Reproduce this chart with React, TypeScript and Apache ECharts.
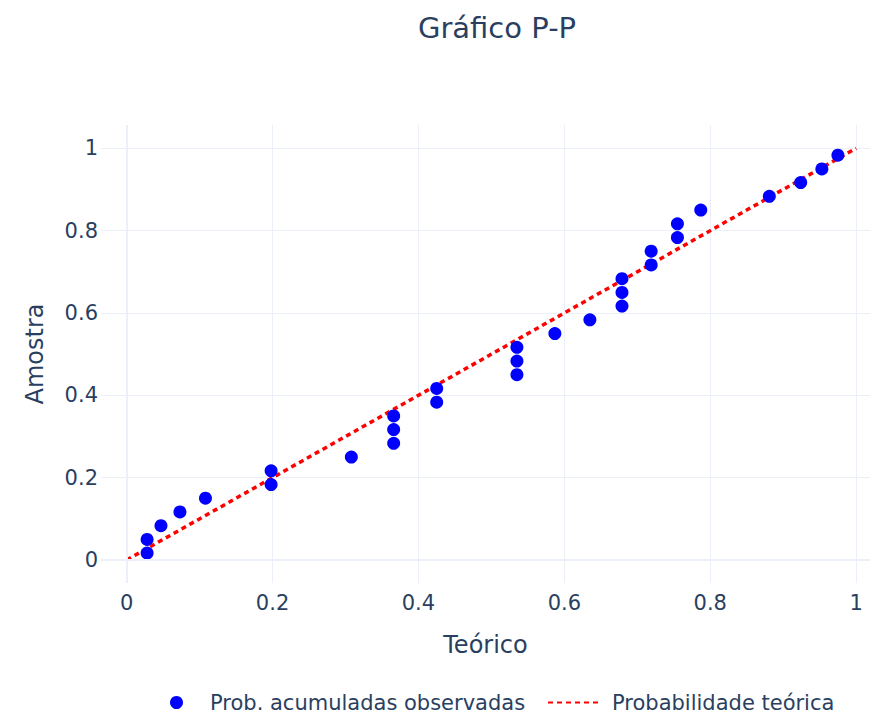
import React, { useEffect, useRef } from "react";
import * as echarts from "echarts";

const titleText = "Gráfico P-P";
const xTitle = "Teórico";
const yTitle = "Amostra";
const scatterName = "Prob. acumuladas observadas";
const lineName = "Probabilidade teórica";

const theoretical = [
  0.028, 0.028, 0.047, 0.073, 0.108, 0.198, 0.198, 0.308, 0.366, 0.366,
  0.366, 0.425, 0.425, 0.535, 0.535, 0.535, 0.587, 0.635, 0.679, 0.679,
  0.679, 0.719, 0.719, 0.755, 0.755, 0.787, 0.881, 0.924, 0.953, 0.975,
];
const sample = [
  0.0167, 0.05, 0.0833, 0.1167, 0.15, 0.1833, 0.2167, 0.25, 0.2833, 0.3167,
  0.35, 0.3833, 0.4167, 0.45, 0.4833, 0.5167, 0.55, 0.5833, 0.6167, 0.65,
  0.6833, 0.7167, 0.75, 0.7833, 0.8167, 0.85, 0.8833, 0.9167, 0.95, 0.9833,
];
const refLineX = [0, 1];
const refLineY = [0, 1];

const FONT = "DejaVu Sans";
const TXT = "#2a3f5f";
const GRID = "#ebf0f8";

export default function App() {
  const ref = useRef<HTMLDivElement>(null);
  useEffect(() => {
    if (!ref.current) return;
    const chart = echarts.init(ref.current, undefined, { renderer: "svg" });
    const scatterData = theoretical.map((x, i) => [x, sample[i]]);
    const lineData = refLineX.map((x, i) => [x, refLineY[i]]);
    chart.setOption({
      animation: false,
      backgroundColor: "#ffffff",
      textStyle: { fontFamily: FONT },
      title: {
        text: titleText,
        left: 492,
        textAlign: "center",
        top: 8,
        textStyle: { fontFamily: FONT, fontSize: 29, fontWeight: "normal", color: TXT },
      },
      grid: { left: 101, right: 4, top: 125, bottom: 131, containLabel: false },
      legend: [
        {
          data: [{ name: scatterName, icon: "circle" }],
          left: 165,
          top: 687,
          itemWidth: 13,
          itemHeight: 13,
          textStyle: { fontFamily: FONT, fontSize: 21, color: TXT, padding: [0, 0, 0, 22] },
        },
        {
          data: [{ name: lineName, itemStyle: { color: "transparent", opacity: 0, borderWidth: 0 } }],
          left: 542,
          top: 687,
          itemWidth: 50,
          itemHeight: 13,
          textStyle: { fontFamily: FONT, fontSize: 21, color: TXT, padding: [0, 0, 0, 9] },
        },
      ],
      xAxis: {
        type: "value",
        min: -0.0352,
        max: 1.019,
        splitNumber: 5,
        name: xTitle,
        nameLocation: "middle",
        nameGap: 50,
        nameTextStyle: { fontFamily: FONT, fontSize: 24, color: TXT },
        axisLine: { show: false },
        axisTick: { show: false },
        axisLabel: {
          fontFamily: FONT,
          fontSize: 21,
          color: TXT,
          margin: 9,
          showMinLabel: false,
          showMaxLabel: false,
        },
        splitLine: { show: true, showMinLine: false, showMaxLine: false, lineStyle: { color: GRID, width: 1 } },
      },
      yAxis: {
        type: "value",
        min: -0.0559,
        max: 1.0566,
        splitNumber: 5,
        name: yTitle,
        nameLocation: "middle",
        nameGap: 54,
        nameTextStyle: { fontFamily: FONT, fontSize: 24, color: TXT },
        axisLine: { show: false },
        axisTick: { show: false },
        axisLabel: {
          fontFamily: FONT,
          fontSize: 21,
          color: TXT,
          margin: 3,
          showMinLabel: false,
          showMaxLabel: false,
        },
        splitLine: { show: true, showMinLine: false, showMaxLine: false, lineStyle: { color: GRID, width: 1 } },
      },
      series: [
        {
          name: "zero",
          type: "line",
          data: [],
          z: 1,
          silent: true,
          markLine: {
            silent: true,
            symbol: "none",
            label: { show: false },
            lineStyle: { color: GRID, width: 2, type: "solid" },
            data: [{ yAxis: 0 }, { xAxis: 0 }],
          },
        },
        {
          name: lineName,
          type: "line",
          data: lineData,
          z: 2,
          showSymbol: false,
          symbol: "none",
          lineStyle: { color: "#ff0000", width: 3.5, type: [5, 4] },
          itemStyle: { color: "#ff0000" },
        },
        {
          name: scatterName,
          type: "scatter",
          data: scatterData,
          z: 3,
          symbolSize: 13,
          itemStyle: { color: "#0000ff", opacity: 1, borderWidth: 0 },
        },
      ],
    });
    return () => chart.dispose();
  }, []);
  return <div ref={ref} style={{ width: 874, height: 714, position: "absolute", left: 0, top: 0 }} />;
}
